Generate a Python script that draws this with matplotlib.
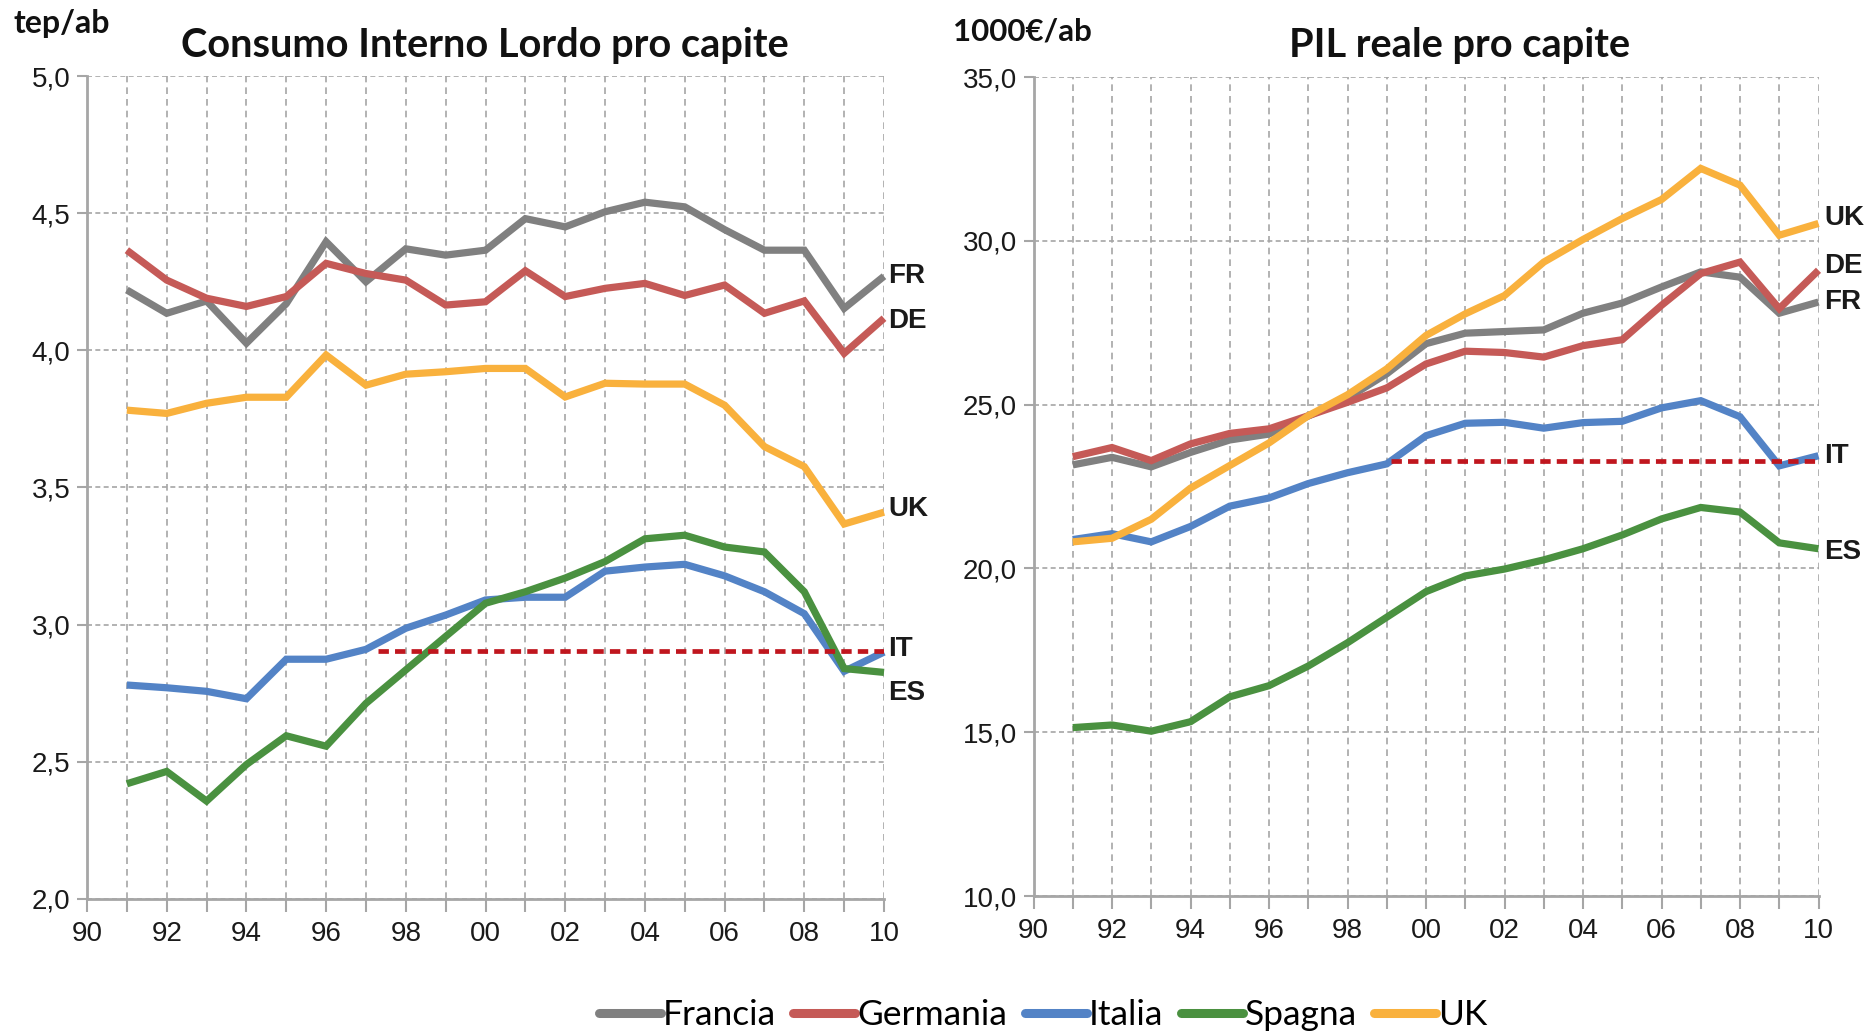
import matplotlib
matplotlib.use("Agg")
import matplotlib.pyplot as plt
from matplotlib.ticker import MultipleLocator, FuncFormatter

years = list(range(1991, 2011))

# Consumo Interno Lordo pro capite (tep/ab)
cil_fr = [4.22, 4.135, 4.18, 4.026, 4.17, 4.396, 4.25, 4.37, 4.347, 4.365, 4.48, 4.45,
          4.505, 4.54, 4.523, 4.44, 4.365, 4.365, 4.153, 4.27]
cil_de = [4.365, 4.256, 4.19, 4.16, 4.196, 4.317, 4.28, 4.256, 4.165, 4.177, 4.29, 4.196,
          4.226, 4.244, 4.20, 4.238, 4.135, 4.18, 3.989, 4.117]
cil_it = [2.78, 2.77, 2.757, 2.73, 2.874, 2.874, 2.91, 2.987, 3.035, 3.09, 3.10, 3.10,
          3.195, 3.21, 3.22, 3.178, 3.12, 3.04, 2.83, 2.9]
cil_es = [2.42, 2.465, 2.357, 2.49, 2.595, 2.557, 2.713, 2.835, 2.957, 3.078, 3.12, 3.17,
          3.23, 3.313, 3.326, 3.283, 3.265, 3.12, 2.84, 2.826]
cil_uk = [3.782, 3.77, 3.807, 3.829, 3.829, 3.983, 3.873, 3.913, 3.922, 3.934, 3.934, 3.83,
          3.88, 3.877, 3.877, 3.80, 3.649, 3.576, 3.367, 3.41]
cil_ref_level = 2.905
cil_ref_span = [1997.3, 2010]

# PIL reale pro capite (1000€/ab)
pil_fr = [23.16, 23.39, 23.1, 23.54, 23.92, 24.1, 24.65, 25.2, 25.94, 26.86, 27.18, 27.23,
          27.28, 27.79, 28.1, 28.59, 29.05, 28.89, 27.79, 28.13]
pil_de = [23.41, 23.69, 23.29, 23.8, 24.12, 24.26, 24.66, 25.07, 25.51, 26.24, 26.63, 26.59,
          26.45, 26.8, 26.98, 28.03, 29.0, 29.35, 27.93, 29.1]
pil_it = [20.88, 21.06, 20.81, 21.28, 21.9, 22.15, 22.59, 22.92, 23.19, 24.05, 24.43, 24.46,
          24.28, 24.45, 24.49, 24.9, 25.12, 24.63, 23.13, 23.44]
pil_es = [15.14, 15.22, 15.03, 15.32, 16.08, 16.42, 17.02, 17.73, 18.51, 19.29, 19.77, 19.98,
          20.26, 20.6, 21.02, 21.51, 21.86, 21.72, 20.78, 20.6]
pil_uk = [20.81, 20.92, 21.5, 22.45, 23.14, 23.83, 24.66, 25.3, 26.09, 27.11, 27.77, 28.33,
          29.35, 30.04, 30.68, 31.26, 32.21, 31.7, 30.17, 30.53]
pil_ref_level = 23.27
pil_ref_span = [1999.1, 2010]

names = ["Francia", "Germania", "Italia", "Spagna", "UK"]
codes = ["FR", "DE", "IT", "ES", "UK"]
colors = ["#808080", "#C55A57", "#5383C6", "#4A9140", "#F9B13D"]

cil_ticks = [2.0, 2.5, 3.0, 3.5, 4.0, 4.5, 5.0]
pil_ticks = [10.0, 15.0, 20.0, 25.0, 30.0, 35.0]
xtick_years = list(range(1990, 2011, 2))

TICKFONT = "Liberation Sans"
TITLEFONT = "Lato"

fig = plt.figure(figsize=(18.68, 10.34), dpi=100)
fig.patch.set_facecolor("white")

ax1 = fig.add_axes([87/1868, 1-899/1034, (884-87)/1868, (899-76)/1034])
ax2 = fig.add_axes([1033.5/1868, 1-896/1034, (1818.5-1033.5)/1868, (896-77)/1034])

grid_color = "#A6A6A6"


def style_axis(ax, yticks):
    ax.set_xlim(1990, 2010)
    ax.set_ylim(yticks[0], yticks[-1])
    ax.set_yticks(yticks)
    ax.yaxis.set_major_formatter(FuncFormatter(lambda v, p: f"{v:.1f}".replace(".", ",")))
    ax.set_xticks(xtick_years)
    ax.xaxis.set_minor_locator(MultipleLocator(1))
    ax.xaxis.set_major_formatter(FuncFormatter(lambda v, p: f"{int(v) % 100:02d}"))
    for s in ["top", "right"]:
        ax.spines[s].set_visible(False)
    for s in ["left", "bottom"]:
        ax.spines[s].set_color(grid_color)
        ax.spines[s].set_linewidth(2)
    ax.grid(True, which="both", axis="x", color=grid_color, linestyle=(0, (4, 3)), linewidth=1.2)
    ax.grid(True, which="major", axis="y", color=grid_color, linestyle=(0, (3, 2)), linewidth=1.2)
    ax.tick_params(axis="x", which="both", direction="out", length=9, width=1.5,
                   color=grid_color, labelsize=20, pad=7)
    ax.tick_params(axis="y", which="major", direction="out", length=7, width=1.5,
                   color=grid_color, labelsize=20, pad=5)
    for lab in ax.get_xticklabels() + ax.get_yticklabels():
        lab.set_fontfamily(TICKFONT)
        lab.set_color("#1A1A1A")
    ax.set_axisbelow(True)
    ax.patch.set_alpha(0)


style_axis(ax1, cil_ticks)
style_axis(ax2, pil_ticks)

LW = 5.2
cil_series = [cil_fr, cil_de, cil_it, cil_es, cil_uk]
pil_series = [pil_fr, pil_de, pil_it, pil_es, pil_uk]

handles = []
for name, c, s in zip(names, colors, cil_series):
    h, = ax1.plot(years, s, color=c, lw=LW, solid_joinstyle="miter", solid_capstyle="butt",
                  label=name, clip_on=False)
    handles.append(h)
for name, c, s in zip(names, colors, pil_series):
    ax2.plot(years, s, color=c, lw=LW, solid_joinstyle="miter", solid_capstyle="butt",
             clip_on=False)

ax1.plot(cil_ref_span, [cil_ref_level]*2, color="#C0161E", lw=3.4, linestyle=(0, (2.2, 1.3)), zorder=5)
ax2.plot(pil_ref_span, [pil_ref_level]*2, color="#C0161E", lw=3.4, linestyle=(0, (2.2, 1.3)), zorder=5)

# end labels (vertical offsets in points to avoid overlaps)
cil_offsets = {"FR": 0, "DE": -2, "IT": 2, "ES": -15, "UK": 2}
pil_offsets = {"FR": 0, "DE": 3, "IT": 0, "ES": -2, "UK": 4}
for code, s in zip(codes, cil_series):
    ax1.annotate(code, (years[-1], s[-1]), xytext=(3, cil_offsets[code]), textcoords="offset points",
                 ha="left", va="center", fontsize=20, fontweight="bold", family=TICKFONT,
                 color="#1A1A1A", annotation_clip=False)
for code, s in zip(codes, pil_series):
    ax2.annotate(code, (years[-1], s[-1]), xytext=(4, pil_offsets[code]), textcoords="offset points",
                 ha="left", va="center", fontsize=20, fontweight="bold", family=TICKFONT,
                 color="#1A1A1A", annotation_clip=False)

fig.text(485/1868, 1-45/1034, "Consumo Interno Lordo pro capite", ha="center", va="center",
         fontsize=28.6, fontweight="bold", family=TITLEFONT, color="#111111")
fig.text(1460/1868, 1-45/1034, "PIL reale pro capite", ha="center", va="center",
         fontsize=28.6, fontweight="bold", family=TITLEFONT, color="#111111")
fig.text(14/1868, 1-24/1034, "tep/ab", ha="left", va="center",
         fontsize=23, fontweight="bold", family=TITLEFONT, color="#111111")
fig.text(953/1868, 1-32/1034, "1000€/ab", ha="left", va="center",
         fontsize=22.5, fontweight="bold", family=TITLEFONT, color="#111111")

leg = fig.legend(handles=handles, labels=names, loc="center", ncol=5,
                 bbox_to_anchor=(1043/1868, 1-1015/1034), frameon=False,
                 prop={"family": TITLEFONT, "size": 25.5}, handlelength=1.75,
                 handletextpad=0.05, columnspacing=0.5)
for lh in leg.get_lines():
    lh.set_linewidth(6.5)
    lh.set_solid_capstyle("round")

fig.savefig("out.png", dpi=100, facecolor="white")
